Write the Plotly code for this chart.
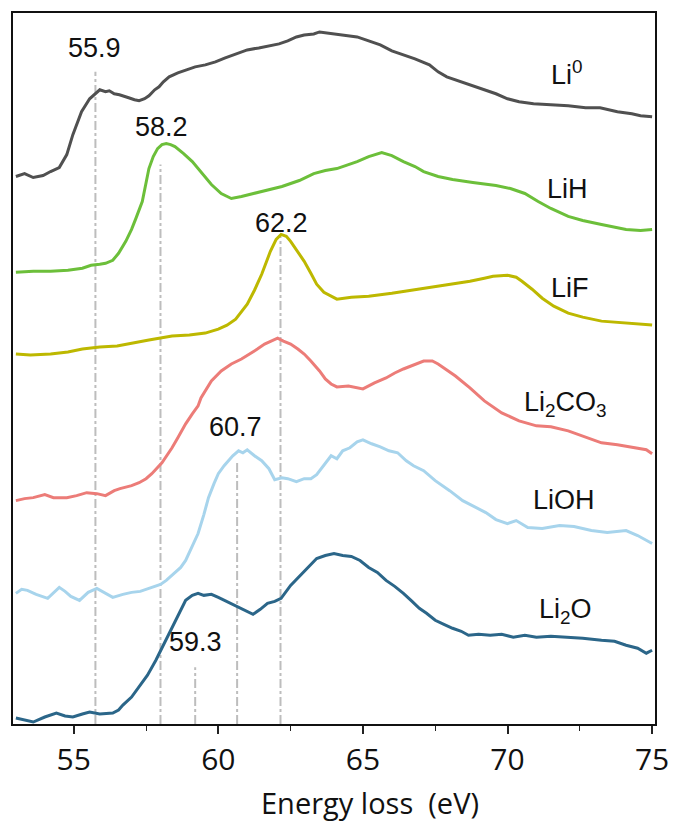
import plotly.graph_objects as go

# ---------------- data (energy loss in eV, intensity in arbitrary offset units) ----------------
li0_x = [53.0,53.3,53.6,53.94,54.2,54.5,54.76,54.97,55.27,55.55,55.9,56.1,56.23,56.4,56.58,56.75,56.9,57.1,57.26,57.45,
         57.6,57.8,57.95,58.1,58.3,58.6,58.87,59.2,59.55,59.9,60.24,60.6,61.0,61.4,61.8,62.1,62.4,62.7,62.97,63.3,
         63.5,63.77,64.1,64.4,64.8,65.2,65.6,66.0,66.4,66.8,67.3,67.6,67.9,68.3,68.7,69.2,69.6,70.0,70.4,70.9,
         71.5,72.1,72.7,73.2,73.8,74.3,74.6,75.0]
li0_y = [549,552,548,550,554,558,571,591,614,627,636,634,635,632,631,629,628,626,625,627,
         630,636,639,644,649,653,656,659,661,664,668,672,676,678,680,682,685,689,691,692,
         694,693,692,691,689,685,681,675,671,667,661,654,649,645,641,636,632,627,624,622,
         621,620,618,618,614,612,610,609]

lih_x = [53.0,53.6,54.2,54.8,55.3,55.6,55.9,56.1,56.35,56.55,56.8,57.0,57.15,57.37,57.6,57.75,57.9,58.05,58.2,58.35,
         58.5,58.8,59.1,59.4,59.76,60.1,60.45,60.8,61.1,61.6,62.2,62.8,63.3,63.7,64.1,64.5,64.8,65.2,65.65,66.0,
         66.4,66.8,67.1,67.6,68.1,68.8,69.6,70.1,70.6,71.06,71.5,72.1,72.6,73.25,73.7,74.1,74.6,75.0]
lih_y = [453,454,454,455,457,460,461,462,465,472,484,496,507,524,557,569,577,581,582,581,
         579,572,564,553,541,532,527,529,531,535,539,545,552,555,557,561,564,569,573,570,
         564,559,554,549,546,543,540,537,532,524,517,509,505,501,498,496,495,496]

lif_x = [53.0,53.5,54.2,54.8,55.3,55.9,56.5,57.0,57.6,58.0,58.4,59.0,59.55,60.0,60.3,60.6,60.8,61.0,61.25,61.5,
         61.8,62.0,62.17,62.35,62.5,62.75,62.97,63.2,63.4,63.65,63.9,64.1,64.6,65.2,66.0,66.95,67.8,68.7,69.2,69.5,
         70.0,70.3,70.5,70.85,71.2,71.6,72.1,72.6,73.25,74.0,75.0]
lif_y = [371,370,371,373,376,378,379,382,385,387,389,390,392,396,400,406,413,421,435,451,
         474,486,491,489,484,474,464,452,441,433,429,426,428,429,432,436,440,444,447,449,
         450,448,444,436,427,419,412,408,404,402,400]

li2co3_x = [53.0,53.3,53.6,54.0,54.3,54.76,55.1,55.45,55.8,56.1,56.4,56.6,57.0,57.26,57.5,57.7,58.05,58.4,58.6,58.87,
            59.1,59.3,59.4,59.76,60.1,60.45,60.8,61.1,61.35,61.6,61.85,62.05,62.25,62.5,62.75,62.97,63.2,63.5,63.7,63.9,
            64.1,64.5,65.0,65.4,65.8,66.1,66.4,66.8,67.1,67.4,67.6,67.8,68.2,68.7,69.2,69.8,70.4,71.0,71.5,72.1,
            72.7,73.25,73.8,74.4,74.8,75.0]
li2co3_y = [224,226,227,230,227,227,229,232,231,229,234,236,239,242,246,251,262,277,287,301,
            311,319,327,344,354,361,366,371,376,381,384,387,384,381,376,371,364,354,346,341,
            338,339,336,342,347,352,356,361,364,364,361,357,349,337,324,312,304,299,298,294,
            288,282,280,277,275,271]

lioh_x = [53.0,53.2,53.4,53.7,54.1,54.3,54.5,54.7,54.9,55.2,55.5,55.8,56.1,56.35,56.7,57.0,57.3,57.7,58.0,58.2,
          58.35,58.5,58.7,58.87,59.1,59.3,59.5,59.66,59.85,60.0,60.2,60.34,60.5,60.7,60.85,61.0,61.25,61.5,61.75,61.95,
          62.2,62.4,62.7,62.97,63.2,63.4,63.7,63.9,64.1,64.3,64.55,64.8,65.0,65.3,65.6,65.9,66.2,66.5,66.75,67.1,
          67.5,68.0,68.45,68.9,69.25,69.6,70.0,70.3,70.7,71.2,71.8,72.3,72.9,73.45,73.8,74.1,74.5,75.0]
lioh_y = [131,135,134,130,126,132,137,133,128,124,132,136,131,127,130,132,133,137,140,144,
          148,151,157,164,178,191,210,227,241,251,259,264,269,274,272,275,269,264,256,245,
          247,246,243,246,246,250,262,269,266,274,277,283,285,281,278,274,272,264,259,254,
          244,234,224,217,212,205,201,204,197,196,199,198,194,192,193,194,189,181]

li2o_x = [53.0,53.3,53.6,54.0,54.4,54.7,54.97,55.3,55.55,55.9,56.35,56.55,56.7,57.0,57.26,57.55,57.84,58.1,58.4,58.65,
          58.87,59.1,59.3,59.5,59.76,60.0,60.34,60.6,60.8,61.0,61.2,61.45,61.7,61.95,62.17,62.5,62.8,63.1,63.4,63.7,
          64.0,64.3,64.6,64.9,65.2,65.5,65.8,66.1,66.4,66.7,66.95,67.2,67.5,67.8,68.1,68.4,68.65,69.0,69.4,69.8,
          70.2,70.6,71.0,71.5,72.1,72.6,73.25,73.7,74.1,74.5,74.8,75.0]
li2o_y = [6,4,2,7,11,8,7,10,12,10,11,14,19,27,37,49,64,79,97,112,
          124,129,131,129,130,127,122,119,116,113,110,115,121,123,126,139,148,157,166,169,
          171,169,168,164,157,152,144,138,131,123,116,111,104,100,96,93,89,90,89,90,
          87,89,87,88,87,86,84,83,79,76,71,74]

series_names = ["Li<sup>0</sup>", "LiH", "LiF", "Li<sub>2</sub>CO<sub>3</sub>", "LiOH", "Li<sub>2</sub>O"]
series_x = [li0_x, lih_x, lif_x, li2co3_x, lioh_x, li2o_x]
series_y = [li0_y, lih_y, lif_y, li2co3_y, lioh_y, li2o_y]
series_colors = ["#505050", "#6cbf3a", "#bdb800", "#ec7c78", "#a7d4ec", "#2b6689"]
name_label_x = [72.05, 72.09, 72.16, 71.99, 71.95, 72.02]
name_label_y = [653, 537, 437, 321, 225, 113]

peak_positions = [55.75, 58.0, 62.15, 60.65, 59.2]
peak_line_tops = [654, 561, 489, 262, 57]
peak_texts = ["55.9", "58.2", "62.2", "60.7", "59.3"]
peak_label_x = [55.72, 58.05, 62.19, 60.58, 59.21]
peak_label_y = [678, 599, 502, 298, 82]

x_ticks = [55, 60, 65, 70, 75]
x_title = "Energy loss\u00a0\u00a0(eV)"

# ---------------- figure ----------------
fig = go.Figure()

for xp, top in zip(peak_positions, peak_line_tops):
    fig.add_shape(type="line", x0=xp, x1=xp, y0=0, y1=top, xref="x", yref="y",
                  line=dict(color="#bdbdbd", width=2, dash="dashdot"), layer="below")

for xs, ys, c in zip(series_x, series_y, series_colors):
    fig.add_trace(go.Scatter(x=xs, y=ys, mode="lines", line=dict(color=c, width=3),
                             showlegend=False, hoverinfo="skip"))

label_font = dict(family="Liberation Sans, Arial, sans-serif", size=27, color="#111111")
for t, xx, yy in zip(series_names, name_label_x, name_label_y):
    fig.add_annotation(x=xx, y=yy, text=t, showarrow=False, font=label_font,
                       xanchor="center", yanchor="middle")
for t, xx, yy in zip(peak_texts, peak_label_x, peak_label_y):
    fig.add_annotation(x=xx, y=yy, text=t, showarrow=False, font=label_font,
                       xanchor="center", yanchor="middle")

# axis title (placed as annotation; slightly right of plot centre as in the original)
fig.add_annotation(x=0.556, y=-0.111, xref="paper", yref="paper", text=x_title, showarrow=False,
                   font=dict(family="Open Sans, sans-serif", size=29, color="#111"),
                   xanchor="center", yanchor="middle")

fig.update_layout(
    width=680, height=823,
    margin=dict(l=13, r=19, t=11, b=99),
    paper_bgcolor="white", plot_bgcolor="white",
    xaxis=dict(range=[52.9, 75.1], tickvals=x_ticks, ticks="outside", ticklen=8, tickwidth=1.5,
               tickcolor="#222", showgrid=False, zeroline=False,
               showline=True, linecolor="#111", linewidth=2, mirror=True,
               minor=dict(dtick=2.5, tick0=52.5, ticks="outside", ticklen=5, tickwidth=1.2, tickcolor="#222"),
               tickfont=dict(family="Open Sans, sans-serif", size=30, color="#111")),
    yaxis=dict(range=[0, 713], showticklabels=False, ticks="", showgrid=False, zeroline=False,
               showline=True, linecolor="#111", linewidth=2, mirror=True),
)

fig.write_html("out.html")
